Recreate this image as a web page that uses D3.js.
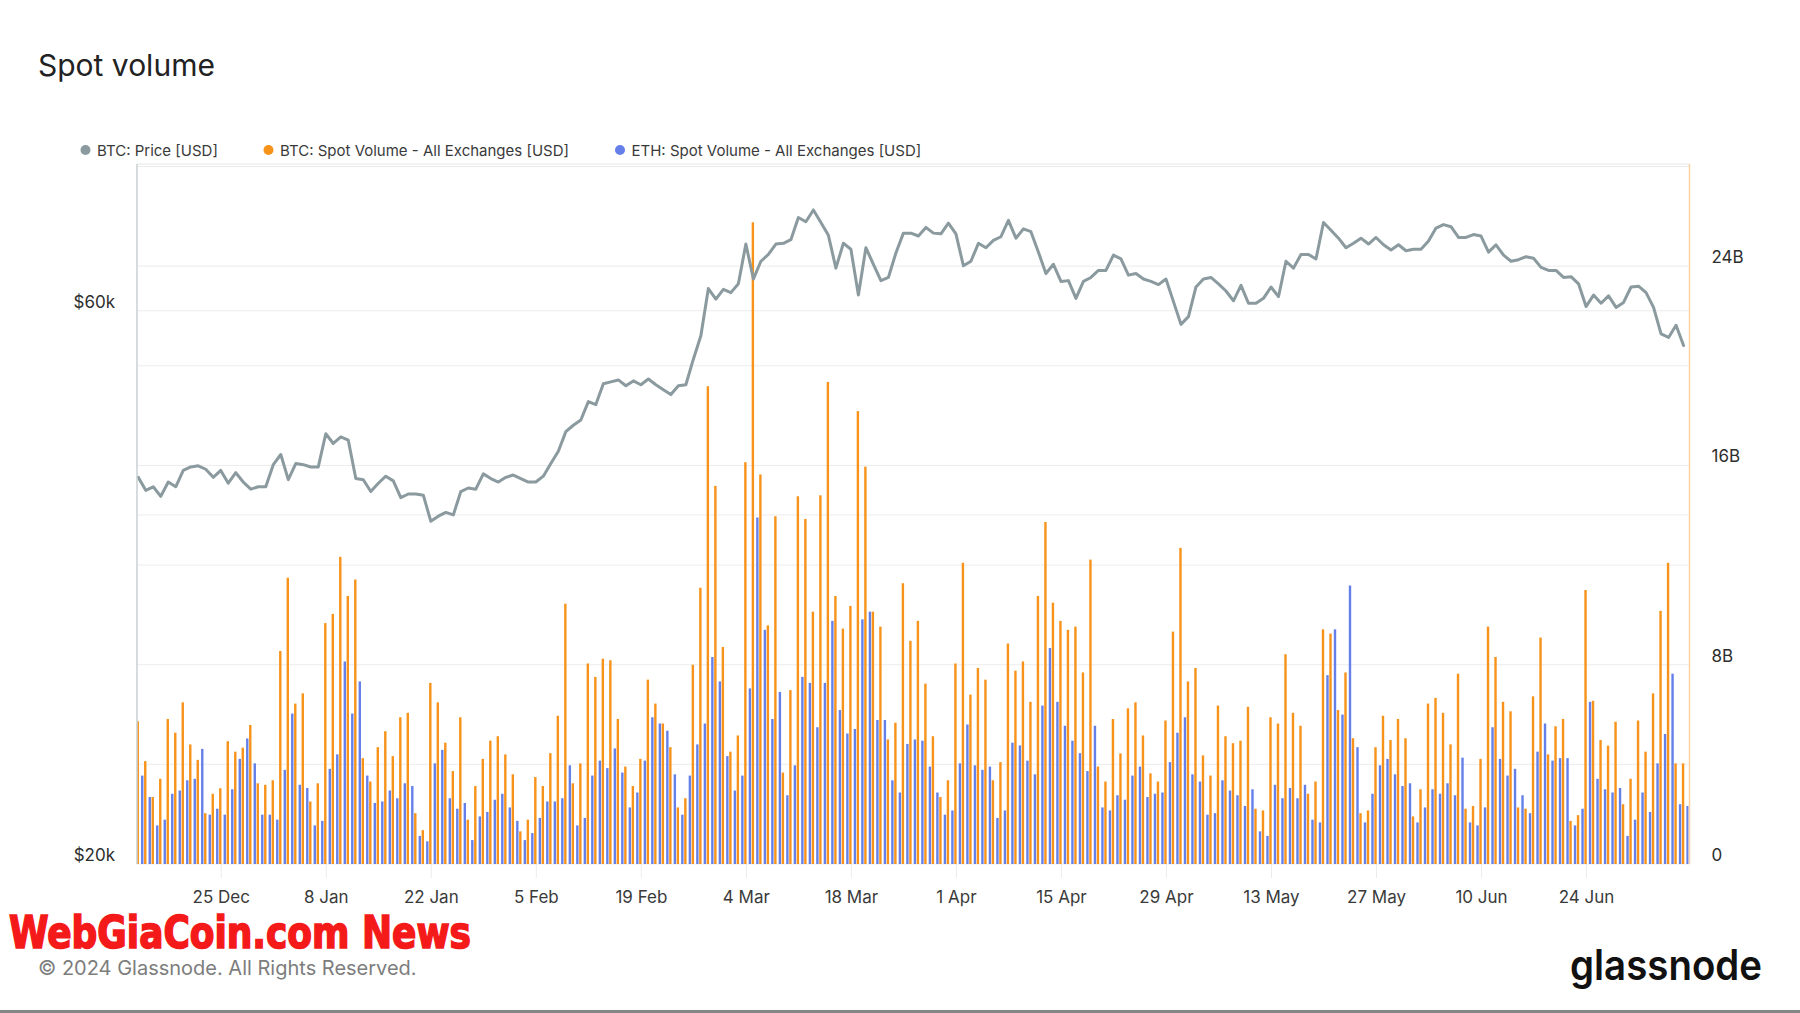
<!DOCTYPE html>
<html><head><meta charset="utf-8">
<script src="https://cdn.jsdelivr.net/npm/d3@7"></script>
<style>
html,body{margin:0;padding:0;background:#fff;}
svg{display:block;font-family:Inter,'Noto Sans',sans-serif;}
</style></head>
<body>
<svg id="chart" width="1800" height="1013"></svg>
<script>
// ---------- DATA (daily, starting 2023-12-14) ----------
const startDay = "2023-12-14";
const seriesNames = ["BTC: Price [USD]", "BTC: Spot Volume - All Exchanges [USD]", "ETH: Spot Volume - All Exchanges [USD]"];

// BTC price, thousands USD (2023-12-14 .. 2024-07-07)
const btcPrice = [
43.1,42.0,42.3,41.5,42.7,42.3,43.7,44.0,44.1,43.8,43.1,43.7,42.6,43.5,42.7,42.1,42.3,42.3,44.2,45.1,42.9,44.3,44.2,44.0,44.0,47.0,
46.1,46.7,46.4,43.0,42.9,41.9,42.6,43.2,42.8,41.4,41.7,41.7,41.6,39.5,39.9,40.2,40.0,41.9,42.2,42.1,43.4,43.0,42.7,43.1,43.3,43.0,
42.7,42.7,43.2,44.3,45.4,47.2,47.8,48.3,50.1,49.8,51.9,52.1,52.3,51.7,52.2,51.8,52.4,51.8,51.3,50.8,51.7,51.8,54.5,57.1,62.7,61.4,
62.6,62.2,63.3,68.5,63.9,66.2,67.1,68.5,68.6,69.1,72.2,71.6,73.3,71.5,69.7,65.3,68.6,67.8,61.9,68.0,65.8,63.7,64.1,67.3,70.0,70.0,
69.6,70.8,70.0,69.9,71.4,69.9,65.6,66.2,68.6,68.0,69.0,69.5,71.8,69.3,70.6,70.2,67.4,64.6,65.8,63.6,63.7,61.5,63.6,64.1,65.0,65.0,
67.0,66.5,64.4,64.6,63.9,63.6,63.2,63.9,61.1,58.4,59.3,62.9,63.9,64.1,63.3,62.4,61.2,63.1,60.9,60.9,61.5,62.9,61.7,66.2,65.3,67.1,
67.1,66.5,71.5,70.4,69.3,68.0,68.6,69.3,68.5,69.4,68.4,67.7,68.4,67.6,67.8,67.8,68.9,70.7,71.2,70.9,69.4,69.4,69.8,69.6,67.4,68.4,
67.0,66.2,66.4,66.8,66.6,65.4,65.0,65.0,64.1,64.2,63.3,60.5,61.9,60.9,61.8,60.4,61.0,62.9,63.0,62.2,60.4,57.3,56.9,58.3,56.0
];

// BTC spot volume, billions USD (2023-12-14 .. 2024-07-08)
const btcVolume = [
5.73,4.13,2.69,3.42,5.82,5.27,6.49,4.80,4.18,2.04,2.82,3.04,4.93,4.51,4.67,5.58,3.24,3.18,3.36,8.55,11.49,6.44,6.85,2.51,3.24,9.67,
10.04,12.33,10.76,11.42,4.25,3.31,4.69,5.33,4.33,5.89,6.07,2.04,1.36,7.27,6.49,4.87,3.73,5.89,1.78,3.13,4.22,4.95,5.13,4.40,3.60,1.31,
1.78,3.49,3.13,4.45,5.95,10.45,3.24,4.04,8.05,7.51,8.24,8.18,5.82,3.91,3.13,4.22,7.40,6.44,5.64,4.69,2.27,2.64,8.00,11.09,19.18,15.18,
8.71,4.51,5.16,16.13,25.76,15.64,9.58,13.96,3.67,6.98,14.76,13.85,10.13,14.80,19.35,10.76,9.45,10.36,18.18,15.95,10.13,9.53,5.00,5.67,11.27,8.96,
9.76,7.24,5.13,2.69,3.36,8.05,12.09,6.80,7.87,7.40,3.36,4.09,8.85,7.76,8.13,6.51,10.76,13.73,10.49,9.76,9.40,9.53,7.69,12.22,3.91,3.31,
5.82,4.44,6.25,6.49,5.16,3.64,3.31,5.76,9.33,12.69,7.33,7.87,4.36,3.55,6.36,5.13,4.85,4.95,6.31,2.22,2.15,5.89,5.64,8.42,6.07,5.55,
2.82,3.31,9.42,9.25,6.18,7.69,5.05,2.04,2.15,4.69,5.95,4.98,5.82,5.05,1.91,3.00,6.44,6.67,6.07,4.80,7.64,2.22,2.33,4.22,9.53,8.31,
6.51,6.13,2.27,2.22,6.73,9.09,4.40,5.53,5.82,1.73,1.96,11.00,6.55,4.98,4.75,5.71,2.40,3.42,5.76,4.51,6.85,10.16,12.09,4.04,4.04,null
];

// ETH spot volume, billions USD (2023-12-14 .. 2024-07-08)
const ethVolume = [
null,3.55,2.69,1.55,1.78,2.82,2.95,3.36,3.42,4.62,1.98,2.22,1.98,3.00,4.22,5.04,4.04,1.98,1.98,1.78,3.78,6.04,3.18,3.05,1.55,1.73,
3.82,4.40,8.13,6.04,7.33,3.55,2.45,2.51,2.95,2.64,3.24,3.13,1.13,0.91,4.04,4.58,2.64,2.22,2.45,0.96,1.91,2.09,2.58,2.82,2.27,1.73,
0.96,1.24,1.85,2.51,2.51,2.64,3.96,1.55,1.85,3.55,4.15,3.85,4.64,3.67,2.27,2.87,4.15,5.89,5.64,5.35,3.60,1.98,3.55,4.80,5.64,8.31,
7.33,4.33,2.95,3.55,7.05,13.91,9.40,5.82,6.91,2.76,3.96,7.51,7.27,5.49,7.27,9.76,6.18,5.24,5.42,9.82,10.13,5.78,5.78,3.36,2.87,4.82,
5.00,4.95,3.91,2.87,1.98,2.15,4.04,5.60,3.96,3.78,3.91,1.85,2.15,4.87,4.76,4.15,3.60,6.36,8.67,6.51,5.55,4.95,4.45,3.73,5.55,2.27,
2.15,2.76,2.58,3.55,3.91,2.69,2.82,2.87,4.09,5.27,5.89,3.60,3.31,1.98,2.04,3.36,2.95,2.76,2.33,3.00,1.31,1.13,3.18,2.64,3.05,2.64,
3.18,1.78,1.67,7.58,9.42,6.00,11.18,4.69,1.67,2.82,3.96,4.22,3.60,3.13,3.24,1.67,2.27,3.00,2.82,3.24,2.76,4.27,1.67,1.55,2.27,5.49,
4.22,3.55,3.82,2.76,2.04,4.51,5.64,4.15,4.25,4.25,1.55,2.22,6.51,3.42,3.00,2.87,3.05,1.13,1.78,2.87,2.09,4.04,5.22,7.64,2.40,2.33
];

const xTickDates = ["2023-12-25","2024-01-08","2024-01-22","2024-02-05","2024-02-19","2024-03-04","2024-03-18",
                    "2024-04-01","2024-04-15","2024-04-29","2024-05-13","2024-05-27","2024-06-10","2024-06-24"];
const priceGridTicks = [20000, 40000, 60000];
const priceLabelTicks = [20000, 60000];
const volumeGridTicks = [0, 4, 8, 12, 16, 20, 24, 28];
const volumeLabelTicks = [0, 8, 16, 24];

// ---------- STYLE / LAYOUT ----------
const C_PRICE = "#8a9a9e", C_BTC = "#f7931a", C_ETH = "#6580e8";
const W = 1800, H = 1013;
const L = 137, R = 1689.5, T = 164, B = 864;

const svg = d3.select("#chart");
const parse = d3.utcParse("%Y-%m-%d");
const start = parse(startDay);
const dayOf = i => d3.utcDay.offset(start, i);

const x = d3.scaleUtc()
  .domain([d3.utcHour.offset(start, -4), d3.utcHour.offset(start, 4963)])
  .range([L, R]);
const yPrice = d3.scaleLog().domain([20000, 80300]).range([B, T]);
const yVol = d3.scaleLinear().domain([0, 28.1]).range([B, T]);
const sub = d3.scaleBand().domain(["eth", "btc"]).range([-4.7, 0.7]).paddingInner(0.2);

// Title
svg.append("text").attr("x", 38).attr("y", 76)
  .attr("font-size", 30).attr("fill", "#222").text("Spot volume");

// Legend
const legendX = [85.5, 268.5, 620];
const legendC = [C_PRICE, C_BTC, C_ETH];
seriesNames.forEach((n, k) => {
  const g = svg.append("g").attr("transform", `translate(${legendX[k]},150)`);
  g.append("circle").attr("r", 5).attr("fill", legendC[k]);
  g.append("text").attr("x", 11.5).attr("dominant-baseline", "central")
    .attr("font-size", 15).attr("fill", "#3a3a3a").text(n);
});

// Grid
const grid = svg.append("g");
grid.selectAll("line.v").data(volumeGridTicks).join("line")
  .attr("x1", L).attr("x2", R).attr("y1", d => yVol(d)).attr("y2", d => yVol(d))
  .attr("stroke", "#ececec").attr("stroke-width", 1);
grid.selectAll("line.p").data(priceGridTicks.slice(1)).join("line")
  .attr("x1", L).attr("x2", R).attr("y1", d => yPrice(d)).attr("y2", d => yPrice(d))
  .attr("stroke", "#ececec").attr("stroke-width", 1);
svg.append("line").attr("x1", L).attr("x2", R).attr("y1", T).attr("y2", T)
  .attr("stroke", "#e6e6e6").attr("stroke-width", 1);

// clip
svg.append("clipPath").attr("id", "plot").append("rect")
  .attr("x", L).attr("y", T - 2).attr("width", R - L - 0.8).attr("height", B - T + 2);
const plot = svg.append("g").attr("clip-path", "url(#plot)");

// Bars
const days = d3.range(btcVolume.length);
const bw = sub.bandwidth();
plot.append("g").selectAll("rect").data(days.filter(i => ethVolume[i] != null)).join("rect")
  .attr("x", i => x(dayOf(i)) + sub("eth")).attr("width", bw)
  .attr("y", i => yVol(ethVolume[i])).attr("height", i => yVol(0) - yVol(ethVolume[i]))
  .attr("fill", C_ETH);
plot.append("g").selectAll("rect").data(days.filter(i => btcVolume[i] != null)).join("rect")
  .attr("x", i => x(dayOf(i)) + sub("btc")).attr("width", bw)
  .attr("y", i => yVol(btcVolume[i])).attr("height", i => yVol(0) - yVol(btcVolume[i]))
  .attr("fill", C_BTC);

// Price line
const line = d3.line().x((d, i) => x(dayOf(i))).y(d => yPrice(d * 1000));
plot.append("path").datum(btcPrice).attr("d", line)
  .attr("fill", "none").attr("stroke", C_PRICE).attr("stroke-width", 3)
  .attr("stroke-linejoin", "round").attr("stroke-linecap", "round");

// Axis border lines
svg.append("line").attr("x1", L).attr("x2", L).attr("y1", T).attr("y2", B)
  .attr("stroke", "#c8d0d2").attr("stroke-width", 1.5);
svg.append("line").attr("x1", R).attr("x2", R).attr("y1", T).attr("y2", B)
  .attr("stroke", "#fcd1a0").attr("stroke-width", 1.5);

// Left axis (price)
const ax1 = svg.append("g").attr("transform", `translate(${L},0)`)
  .call(d3.axisLeft(yPrice).tickValues(priceLabelTicks).tickSize(0).tickPadding(22)
    .tickFormat(d => "$" + d / 1000 + "k"));
ax1.select(".domain").remove();
ax1.selectAll("text").attr("y", -9).attr("font-size", 17).attr("fill", "#2e2e2e")
  .attr("font-family", "Inter,'Noto Sans',sans-serif");

// Right axis (volume)
const ax2 = svg.append("g").attr("transform", `translate(${R},0)`)
  .call(d3.axisRight(yVol).tickValues(volumeLabelTicks).tickSize(0).tickPadding(22)
    .tickFormat(d => d === 0 ? "0" : d + "B"));
ax2.select(".domain").remove();
ax2.selectAll("text").attr("y", -9).attr("font-size", 17).attr("fill", "#2e2e2e")
  .attr("font-family", "Inter,'Noto Sans',sans-serif");

// X axis
const ax3 = svg.append("g").attr("transform", `translate(0,${B})`)
  .call(d3.axisBottom(x).tickValues(xTickDates.map(parse)).tickSize(14)
    .tickFormat(d3.utcFormat("%-d %b")));
ax3.select(".domain").remove();
ax3.selectAll(".tick line").attr("stroke", "#ececec");
ax3.selectAll("text").attr("y", 32.5).attr("dy", null).attr("dominant-baseline", "central")
  .attr("font-size", 17).attr("fill", "#3a3a3a").attr("font-family", "Inter,'Noto Sans',sans-serif");

// Watermark
svg.append("text").attr("x", 9).attr("y", 948)
  .attr("font-family", "'Liberation Sans Narrow','DejaVu Sans Condensed',sans-serif")
  .attr("font-weight", "bold").attr("font-size", 45)
  .attr("fill", "#f41a1a").attr("stroke", "#f41a1a").attr("stroke-width", 1.6)
  .attr("textLength", 462).attr("lengthAdjust", "spacingAndGlyphs")
  .text("WebGiaCoin.com News");

// Footer
svg.append("text").attr("x", 38).attr("y", 968).attr("dominant-baseline", "central")
  .attr("font-size", 20).attr("fill", "#7d7d7d").text("© 2024 Glassnode. All Rights Reserved.");
svg.append("text").attr("x", 1570).attr("y", 980)
  .attr("font-size", 42).attr("font-weight", 600).attr("fill", "#111")
  .attr("textLength", 192).attr("lengthAdjust", "spacingAndGlyphs").text("glassnode");

svg.append("rect").attr("x", 0).attr("y", 1010).attr("width", W).attr("height", 3).attr("fill", "#858585");
</script>
</body></html>
